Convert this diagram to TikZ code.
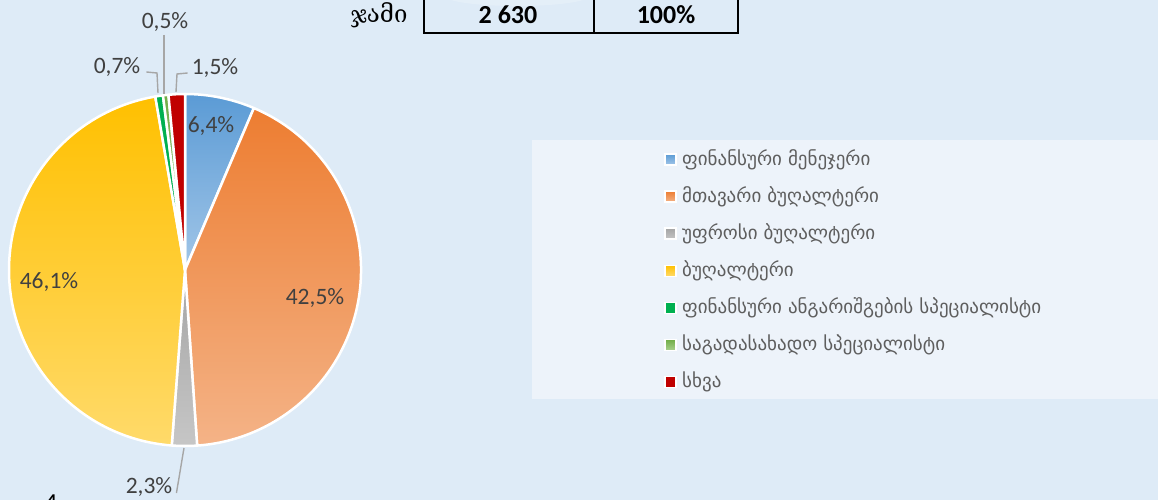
\documentclass[tikz,border=0pt]{standalone}
\usepackage{fontspec}
\setmainfont{Carlito}
\newfontfamily\geo{DejaVu Sans}
\newfontfamily\geoserif{DejaVu Serif}
\definecolor{bg}{HTML}{DEEBF7}
\definecolor{legbg}{HTML}{EDF3FA}
\definecolor{lbl}{HTML}{404040}
\definecolor{legtxt}{HTML}{5E5E5E}
\definecolor{leader}{HTML}{A6A6A6}
\definecolor{blueT}{HTML}{5B9BD5}\definecolor{blueB}{HTML}{A2C6E8}
\definecolor{orT}{HTML}{ED7D31}\definecolor{orB}{HTML}{F4B387}
\definecolor{grT}{HTML}{A5A5A5}\definecolor{grB}{HTML}{C6C6C6}
\definecolor{yeT}{HTML}{FFC000}\definecolor{yeB}{HTML}{FFDA6A}
\definecolor{gnT}{HTML}{00B050}\definecolor{gnB}{HTML}{00B050}
\definecolor{lgT}{HTML}{70AD47}\definecolor{lgB}{HTML}{A9D18E}
\definecolor{rdT}{HTML}{C00000}\definecolor{rdB}{HTML}{C00000}
\newcommand{\pieslice}[4]{\path[top color=#3,bottom color=#4,draw=white,line width=2.5pt,line join=round]
  (C) -- ++(#1:176) arc[start angle=#1,end angle=#2,radius=176] -- cycle;}
\tikzset{
  pct/.style={text=lbl,font=\fontsize{23.5}{27}\selectfont,inner sep=0pt},
  leadline/.style={draw=leader,line width=1.4pt},
  legmark/.style={minimum size=11pt,inner sep=0pt,draw=white,line width=1.6pt},
  legtext/.style={anchor=west,text=legtxt,font=\geo\fontsize{19}{22}\selectfont,inner sep=0pt},
  tabline/.style={draw=black,line width=1.8pt},
  tabtext/.style={font=\bfseries\fontsize{26}{30}\selectfont,inner sep=0pt}
}
\begin{document}
\begin{tikzpicture}[x=1pt,y=1pt]
\useasboundingbox (0,0) rectangle (1158,-500);
\clip (0,0) rectangle (1158,-500);
\fill[bg] (0,0) rectangle (1158,-500);
% faint ghost behind table
\fill[white,opacity=0.2] (517,4) ellipse[x radius=72,y radius=10];
% table
\draw[tabline] (424,2) -- (424,-33) -- (738,-33) -- (738,2);
\draw[tabline] (594,2) -- (594,-33);
\node[font=\geoserif\fontsize{24}{28}\selectfont,anchor=base,inner sep=0pt] (sum) at (379,-23) {ჯამი};
\node[tabtext] (total) at (508,-15) {2 630};
\node[tabtext] (totpct) at (666,-15) {100\%};
% pie
\coordinate (C) at (185,-270);
\pieslice{90}{66.96}{blueT}{blueB}
\pieslice{66.96}{-86.04}{orT}{orB}
\pieslice{-86.04}{-94.32}{grT}{grB}
\pieslice{-94.32}{-260.28}{yeT}{yeB}
\pieslice{-260.28}{-262.80}{gnT}{gnB}
\pieslice{-262.80}{-264.60}{lgT}{lgB}
\pieslice{-264.60}{-270}{rdT}{rdB}
% labels
\node[pct] (l64) at (211,-126) {6,4\%};
\node[pct] (l425) at (315,-298) {42,5\%};
\node[pct] (l461) at (49,-282) {46,1\%};
\node[pct] (l23) at (149,-487) {2,3\%};
\node[pct] (l05) at (165,-22) {0,5\%};
\node[pct] (l07) at (117,-67) {0,7\%};
\node[pct] (l15) at (215,-68) {1,5\%};
% leader lines
\coordinate (e23) at (184,-448);
\coordinate (e05) at (164,-94);
\coordinate (e07) at (158,-93);
\coordinate (e15) at (176,-92);
\draw[leadline] (l23.east) ++(4,-6) coordinate (s23) -- (e23);
\draw[leadline] (164,-35) coordinate (s05) -- (e05);
\draw[leadline] (l07.east) ++(6,-5) coordinate (s07) -- (157,-73) -- (e07);
\draw[leadline] (l15.west) ++(-4,-5) coordinate (s15) -- (177,-74) -- (e15);
% legend
\fill[legbg] (532,-140) rectangle (1158,-399);
\foreach \y/\ct/\cb/\txt [count=\i] in {
  159.5/blueT/blueB/ფინანსური მენეჯერი,
  196.6/orT/orB/მთავარი ბუღალტერი,
  233.7/grT/grB/უფროსი ბუღალტერი,
  270.8/yeT/yeB/ბუღალტერი,
  307.9/gnT/gnB/ფინანსური ანგარიშგების სპეციალისტი,
  345.0/lgT/lgB/საგადასახადო სპეციალისტი,
  382.1/rdT/rdB/სხვა}{
  \node[legmark,top color=\ct,bottom color=\cb] (m\i) at (670.5,-\y) {};
  \node[legtext] (t\i) at (682,-\y) {\txt};
}
% cut-off figure number
\node[font=\fontsize{26}{30}\selectfont,anchor=base,inner sep=0pt] (fig) at (51,-511) {4};
\end{tikzpicture}
\end{document}
